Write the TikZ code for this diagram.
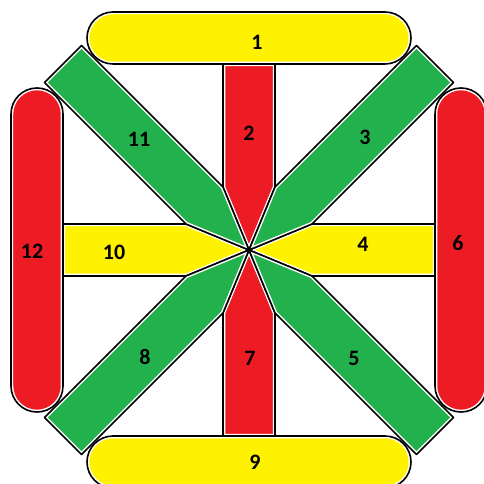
\documentclass[tikz,border=0pt]{standalone}
\usepackage{fontspec}
\setmainfont{Carlito}
\definecolor{paintred}{RGB}{237,28,36}
\definecolor{paintgreen}{RGB}{34,177,76}
\definecolor{paintyellow}{RGB}{255,242,0}
% fill a piece, leave a thin white rim inside, then outline it
\newcommand{\patch}[2]{%
  \fill[#1] #2;
  \begin{scope}
    \clip #2;
    \draw[gap] #2;
  \end{scope}
  \draw[edge] #2;
}

\begin{document}
\begin{tikzpicture}[x=1pt, y=1pt,
    edge/.style={draw=black, line width=1.6pt, line join=round},
    gap/.style={draw=white, line width=4.5pt, line join=round},
    num/.style={font=\fontsize{22}{26}\selectfont\bfseries, inner sep=0pt}]
  \useasboundingbox (-249,-234) rectangle (235,250);

  % outer rounded seats
  \patch{paintyellow}{[rounded corners=26pt] (-162,186) rectangle (162,238)}
  \patch{paintyellow}{[rounded corners=26pt] (-162,-238) rectangle (162,-186)}
  \patch{paintred}{[rounded corners=26pt] (-238,-162) rectangle (-186,162)}
  \patch{paintred}{[rounded corners=26pt] (186,-162) rectangle (238,162)}

  % straight arms
  \foreach \a in {0,180} {
    \begin{scope}[rotate=\a]
      \patch{paintred}{(-26,186) -- (-26,63) -- (0,0) -- (26,63) -- (26,186) -- cycle}
    \end{scope}
  }
  \foreach \a in {90,270} {
    \begin{scope}[rotate=\a]
      \patch{paintyellow}{(-26,186) -- (-26,63) -- (0,0) -- (26,63) -- (26,186) -- cycle}
    \end{scope}
  }

  % diagonal arms
  \foreach \a in {0,90,180,270} {
    \begin{scope}[rotate=\a]
      \patch{paintgreen}{(26,63) -- (167.5,204.5) -- (204.5,167.5) -- (63,26) -- (0,0) -- cycle}
    \end{scope}
  }

  \coordinate (hub) at (0,0);
  \fill (hub) circle (1.8pt);

  \node[num] (n1) at (8,208) {1};
  \node[num] (n2) at (0,117) {2};
  \node[num] (n3) at (116,113) {3};
  \node[num] (n4) at (114,6) {4};
  \node[num] (n5) at (105,-108) {5};
  \node[num] (n6) at (209,7) {6};
  \node[num] (n7) at (1,-108) {7};
  \node[num] (n8) at (-104,-107) {8};
  \node[num] (n9) at (6,-212) {9};
  \node[num] (n10) at (-135,-2) {10};
  \node[num] (n11) at (-110,111) {11};
  \node[num] (n12) at (-217,-1) {12};
\end{tikzpicture}
\end{document}
